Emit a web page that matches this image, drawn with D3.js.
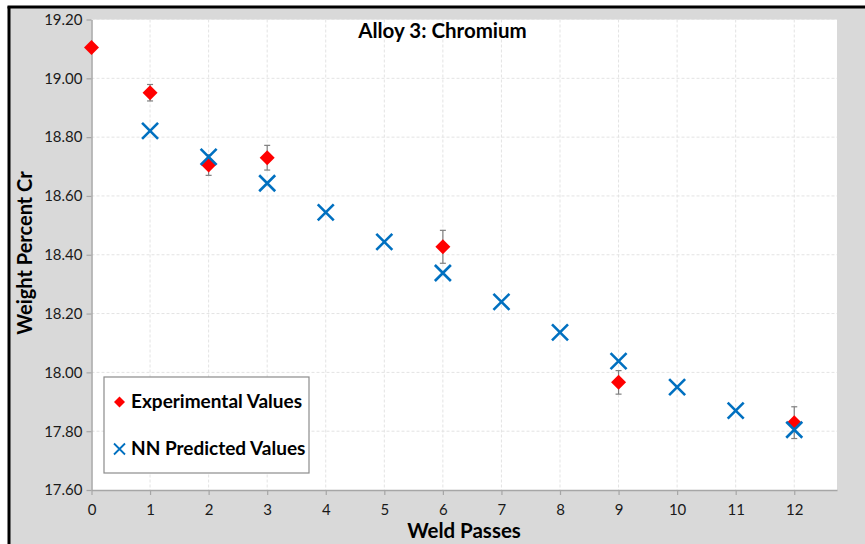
<!DOCTYPE html>
<html><head><meta charset="utf-8">
<script src="https://cdn.jsdelivr.net/npm/d3@7/dist/d3.min.js"></script>
<style>body{margin:0;background:#fff}svg{display:block}</style>
</head><body>
<script>
const passesExp = [0, 1, 2, 3, 6, 9, 12];
const expValues = [19.105, 18.951, 18.705, 18.730, 18.427, 17.966, 17.829];
const expErrors = [0, 0.028, 0.035, 0.042, 0.056, 0.040, 0.054];
const passesNN = [1, 2, 3, 4, 5, 6, 7, 8, 9, 10, 11, 12];
const nnValues = [18.821, 18.733, 18.643, 18.544, 18.444, 18.338, 18.240, 18.136, 18.038, 17.950, 17.870, 17.805];
const xTicks = [0,1,2,3,4,5,6,7,8,9,10,11,12];
const yTicks = [17.60,17.80,18.00,18.20,18.40,18.60,18.80,19.00,19.20];
const title = "Alloy 3: Chromium";
const xTitle = "Weld Passes";
const yTitle = "Weight Percent Cr";
const legendLabels = ["Experimental Values", "NN Predicted Values"];

const W = 865, H = 544;
const font = "Lato, 'Open Sans', sans-serif";
const svg = d3.select("body").append("svg").attr("width", W).attr("height", H);

// outer frame
svg.append("rect").attr("x", 0).attr("y", 0).attr("width", W).attr("height", H).attr("fill", "#fff");
svg.append("rect").attr("x", 9).attr("y", 8).attr("width", W).attr("height", H).attr("fill", "#d9d9d9");
svg.append("line").attr("x1", 9).attr("x2", 9).attr("y1", 6.5).attr("y2", H).attr("stroke", "#000").attr("stroke-width", 3);
svg.append("line").attr("x1", 7.5).attr("x2", W).attr("y1", 7).attr("y2", 7).attr("stroke", "#000").attr("stroke-width", 3);

const L = 91.5, R = 837, T = 19.5, B = 490;
const x = d3.scaleLinear().domain([0, 12.73]).range([L, R]);
const y = d3.scaleLinear().domain([17.6, 19.2]).range([B, T]);

svg.append("rect").attr("x", L).attr("y", T).attr("width", R - L).attr("height", B - T).attr("fill", "#fff");

// grid
const g = svg.append("g");
g.selectAll(".gx").data(xTicks.filter(d => d > 0)).join("line")
  .attr("x1", d => x(d)).attr("x2", d => x(d)).attr("y1", T).attr("y2", B)
  .attr("stroke", "#e3e3e3").attr("stroke-dasharray", "3,2").attr("stroke-width", 1);
g.selectAll(".gy").data(yTicks.filter(d => d > 17.6)).join("line")
  .attr("x1", L).attr("x2", R).attr("y1", d => y(d)).attr("y2", d => y(d))
  .attr("stroke", "#e3e3e3").attr("stroke-dasharray", "3,2").attr("stroke-width", 1);

// axes
const xAxis = d3.axisBottom(x).tickValues(xTicks).tickFormat(d3.format("d")).tickSize(5).tickSizeOuter(0);
const yAxis = d3.axisLeft(y).tickValues(yTicks).tickFormat(d3.format(".2f")).tickSize(5).tickSizeOuter(0);
const gx = svg.append("g").attr("transform", `translate(0,${B})`).call(xAxis);
const gy = svg.append("g").attr("transform", `translate(${L},0)`).call(yAxis);
[gx, gy].forEach(a => {
  a.select(".domain").attr("stroke", "#a6a6a6").attr("stroke-width", 1.5);
  a.selectAll(".tick line").attr("stroke", "#a6a6a6").attr("stroke-width", 1.2);
  a.selectAll("text").attr("font-family", font).attr("font-size", 15).attr("fill", "#1a1a1a");
});
gx.selectAll("text").attr("y", 0).attr("dy", 0).attr("transform", "translate(0,25)");
gy.selectAll("text").attr("x", -9);

// title and axis titles
svg.append("text").attr("x", 442.5).attr("y", 38.3).attr("text-anchor", "middle")
  .attr("font-family", font).attr("font-weight", "bold").attr("font-size", 20.5).attr("fill", "#000").text(title);
svg.append("text").attr("x", 464).attr("y", 538).attr("text-anchor", "middle")
  .attr("font-family", font).attr("font-weight", "bold").attr("font-size", 20.5).attr("fill", "#000").text(xTitle);
svg.append("text").attr("transform", "translate(32,253) rotate(-90)").attr("text-anchor", "middle")
  .attr("font-family", font).attr("font-weight", "bold").attr("font-size", 20).attr("fill", "#000").text(yTitle);

// markers
function diamond(sel, r) {
  return sel.attr("d", `M0,${-r}L${r},0L0,${r}L${-r},0Z`).attr("fill", "#ff0000");
}
function cross(sel, r) {
  return sel.attr("d", `M${-r},${-r}L${r},${r}M${-r},${r}L${r},${-r}`).attr("stroke", "#0070c0").attr("stroke-width", 2.6).attr("fill", "none");
}

const expData = passesExp.map((p, i) => ({p, v: expValues[i], e: expErrors[i]}));
const nnData = passesNN.map((p, i) => ({p, v: nnValues[i]}));

// error bars
const eb = svg.append("g").selectAll("g").data(expData.filter(d => d.e > 0)).join("g")
  .attr("stroke", "#7f7f7f").attr("stroke-width", 1.2);
eb.append("line").attr("x1", d => x(d.p)).attr("x2", d => x(d.p)).attr("y1", d => y(d.v + d.e)).attr("y2", d => y(d.v - d.e));
eb.append("line").attr("x1", d => x(d.p) - 3).attr("x2", d => x(d.p) + 3).attr("y1", d => y(d.v + d.e)).attr("y2", d => y(d.v + d.e));
eb.append("line").attr("x1", d => x(d.p) - 3).attr("x2", d => x(d.p) + 3).attr("y1", d => y(d.v - d.e)).attr("y2", d => y(d.v - d.e));

svg.append("g").selectAll("path").data(expData).join("path")
  .attr("transform", d => `translate(${x(d.p)},${y(d.v)})`).call(diamond, 7.5);
svg.append("g").selectAll("path").data(nnData).join("path")
  .attr("transform", d => `translate(${x(d.p)},${y(d.v)})`).call(cross, 8);

// legend
const lg = svg.append("g");
lg.append("rect").attr("x", 104).attr("y", 377).attr("width", 205).attr("height", 96)
  .attr("fill", "#fff").attr("stroke", "#8c8c8c").attr("stroke-width", 1.2);
lg.append("path").attr("transform", "translate(119.5,402)").call(diamond, 5.5);
lg.append("path").attr("transform", "translate(119.5,449)").call(cross, 5.5).attr("stroke-width", 1.8);
lg.selectAll("text").data(legendLabels).join("text")
  .attr("x", 131).attr("y", (d, i) => 408 + i * 47)
  .attr("font-family", font).attr("font-weight", "bold").attr("font-size", 19).attr("fill", "#000").text(d => d);
</script>
</body></html>
